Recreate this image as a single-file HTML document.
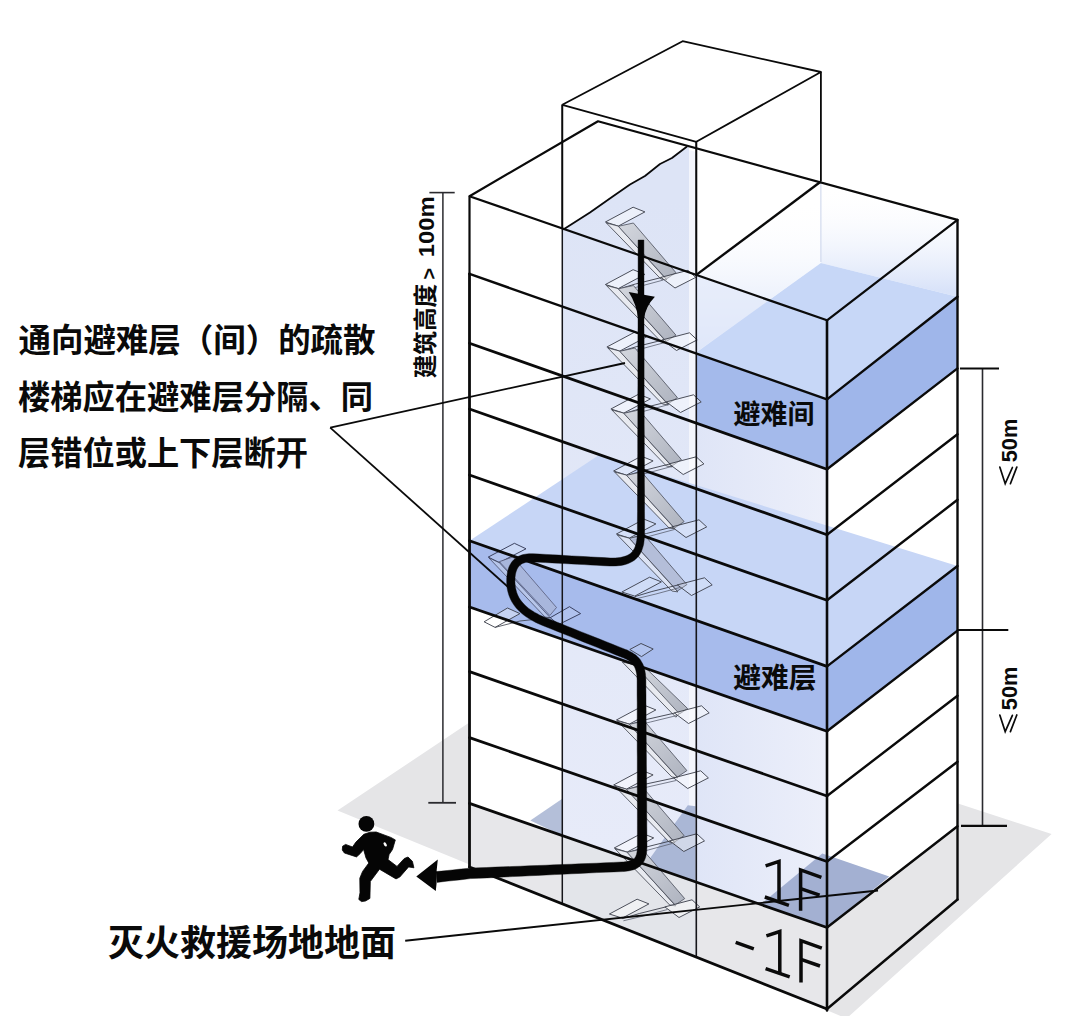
<!DOCTYPE html>
<html><head><meta charset="utf-8"><title>diagram</title>
<style>html,body{margin:0;padding:0;background:#fff;font-family:"Liberation Sans",sans-serif;}svg{display:block}</style>
</head><body>
<svg width="1066" height="1016" viewBox="0 0 1066 1016">
<defs>
<linearGradient id="gLav" x1="696" y1="0" x2="827" y2="0" gradientUnits="userSpaceOnUse"><stop offset="0" stop-color="#dfe5f7"/><stop offset="1" stop-color="#eceffa"/></linearGradient>
<linearGradient id="gWallL" x1="0" y1="200" x2="0" y2="350" gradientUnits="userSpaceOnUse"><stop offset="0" stop-color="#ffffff" stop-opacity="0"/><stop offset="1" stop-color="#cfdcf7" stop-opacity="0.9"/></linearGradient>
<linearGradient id="gWallR" x1="0" y1="185" x2="0" y2="290" gradientUnits="userSpaceOnUse"><stop offset="0" stop-color="#ffffff" stop-opacity="0"/><stop offset="1" stop-color="#d5e0f8" stop-opacity="0.9"/></linearGradient>
<linearGradient id="gRamp" x1="0" y1="0" x2="1" y2="1"><stop offset="0" stop-color="#d4d7de"/><stop offset="1" stop-color="#aeb3bf"/></linearGradient>
<linearGradient id="gCore" x1="0" y1="200" x2="0" y2="850" gradientUnits="userSpaceOnUse"><stop offset="0" stop-color="#dde4f6"/><stop offset="1" stop-color="#e7ebf9"/></linearGradient>
<filter id="soft" x="-5%" y="-5%" width="110%" height="110%"><feGaussianBlur stdDeviation="0.6"/></filter>
</defs>
<rect width="1066" height="1016" fill="#ffffff"/>
<g filter="url(#soft)">
<polygon points="337.5,810.5 469.5,864.5 827.0,1010.3 846.5,1018.5 1051.6,834.0 958.0,803.5 560.0,662.0" fill="#e5e5e7" />
</g>
<polygon points="469.5,196.2 598.0,121.3 957.5,219.9 827.0,320.3" fill="#ffffff" />
<polygon points="469.5,196.2 827.0,320.3 827.0,927.5 469.5,803.4" fill="#ffffff" />
<polygon points="827.0,320.3 957.5,219.9 957.5,826.2 827.0,927.5" fill="#ffffff" />
<polygon points="469.5,803.4 827.0,927.5 827.0,1009.0 469.5,867.0" fill="#e7e7ea" />
<polygon points="827.0,927.5 957.5,826.2 957.5,899.5 827.0,1009.0" fill="#e6e6e8" />
<polygon points="562.3,104.5 682.0,42.0 820.9,72.0 820.9,181.5 696.3,276.0 562.3,228.5" fill="#ffffff" />
<polygon points="696.3,274.9 820.9,181.5 820.9,263.0 696.3,352.0" fill="url(#gWallL)" />
<polygon points="820.9,181.5 957.5,219.9 957.5,296.7 820.9,263.0" fill="url(#gWallR)" />
<polygon points="696.3,274.9 827.0,320.3 827.0,399.4 696.3,353.5" fill="#e3e9f9" opacity='0.75'/>
<polygon points="696.3,352.5 827.0,399.4 957.5,296.7 820.9,263.0" fill="#c7d7f7" />
<polygon points="562.9,229.3 687.0,146.5 689.0,147.5 689.0,879.6 562.9,835.6" fill="url(#gCore)" />
<polygon points="689.0,150.0 696.3,152.0 696.3,882.1 689.0,879.6" fill="#f3f5fc" />
<polygon points="562.3,835.6 696.3,882.1 696.3,957.1 562.3,903.9" fill="#e3e5ea" />
<polygon points="696.3,423.1 827.0,469.2 827.0,927.5 696.3,882.1" fill="url(#gLav)" />
<polygon points="469.5,540.8 827.0,666.4 957.5,566.0 599.0,455.0" fill="#c7d6f6" />
<polygon points="696.3,353.5 827.0,399.4 827.0,469.2 696.3,423.1" fill="#a4baeb" />
<polygon points="827.0,399.4 957.5,296.7 957.5,368.4 827.0,469.2" fill="#9fb6ea" />
<polygon points="469.5,540.8 827.0,666.4 827.0,731.3 469.5,607.0" fill="#a7bbec" />
<polygon points="827.0,666.4 957.5,566.0 957.5,630.6 827.0,731.3" fill="#9fb6ea" />
<polygon points="530.3,820.6 563.0,798.3 563.0,835.9" fill="#b4bfd9" />
<polygon points="645.6,864.5 687.8,805.3 695.6,806.2 695.6,881.9" fill="#aab7d6" />
<polygon points="822.3,853.4 889.3,876.4 827.0,927.5 760.5,904.4" fill="#a3b0d2" />
<polygon points="605.4,222.0 633.1,207.2 644.9,211.9 618.3,226.1" fill="rgba(255,255,255,0.45)" stroke="#3a3d48" stroke-width="0.90" stroke-linejoin="round"/>
<polygon points="606.4,223.0 618.3,226.1 666.8,279.9 660.9,279.0" fill="#e8eaf0" stroke="#3a3d48" stroke-width="0.8" stroke-linejoin="round"/>
<polygon points="618.3,226.3 633.4,223.0 675.9,272.6 666.4,279.0" fill="url(#gRamp)" stroke="#4a4e5a" stroke-width="0.8" stroke-linejoin="round"/>
<polyline points="618.4,289.1 635.4,284.0 661.4,277.5" fill="none" stroke="#3a3d48" stroke-width="0.90" />
<polyline points="619.4,291.3 639.4,286.5 663.4,280.0" fill="none" stroke="#5a5f6e" stroke-width="0.80" />
<polygon points="660.9,277.4 688.0,270.3 695.7,277.4 675.0,288.0" fill="rgba(255,255,255,0.45)" stroke="#3a3d48" stroke-width="0.90" stroke-linejoin="round"/>
<polygon points="605.4,284.5 633.1,269.7 644.9,274.4 618.3,288.6" fill="rgba(255,255,255,0.45)" stroke="#3a3d48" stroke-width="0.90" stroke-linejoin="round"/>
<polygon points="606.4,285.5 618.3,288.6 666.8,342.4 660.9,341.5" fill="#e8eaf0" stroke="#3a3d48" stroke-width="0.8" stroke-linejoin="round"/>
<polygon points="618.3,288.8 633.4,285.5 675.9,335.1 666.4,341.5" fill="url(#gRamp)" stroke="#4a4e5a" stroke-width="0.8" stroke-linejoin="round"/>
<polyline points="619.9,351.6 636.9,346.5 662.9,340.0" fill="none" stroke="#3a3d48" stroke-width="0.90" />
<polyline points="620.9,353.8 640.9,349.0 664.9,342.5" fill="none" stroke="#5a5f6e" stroke-width="0.80" />
<polygon points="662.4,339.9 689.5,332.8 697.2,339.9 676.5,350.5" fill="rgba(255,255,255,0.45)" stroke="#3a3d48" stroke-width="0.90" stroke-linejoin="round"/>
<polygon points="606.9,347.0 634.6,332.2 646.4,336.9 619.8,351.1" fill="rgba(255,255,255,0.45)" stroke="#3a3d48" stroke-width="0.90" stroke-linejoin="round"/>
<polygon points="607.9,348.0 619.8,351.1 668.3,404.9 662.4,404.0" fill="#e8eaf0" stroke="#3a3d48" stroke-width="0.8" stroke-linejoin="round"/>
<polygon points="619.8,351.3 634.9,348.0 677.4,397.6 667.9,404.0" fill="url(#gRamp)" stroke="#4a4e5a" stroke-width="0.8" stroke-linejoin="round"/>
<polyline points="623.9,413.6 640.9,408.5 666.9,402.0" fill="none" stroke="#3a3d48" stroke-width="0.90" />
<polyline points="624.9,415.8 644.9,411.0 668.9,404.5" fill="none" stroke="#5a5f6e" stroke-width="0.80" />
<polygon points="666.4,401.9 693.5,394.8 701.2,401.9 680.5,412.5" fill="rgba(255,255,255,0.45)" stroke="#3a3d48" stroke-width="0.90" stroke-linejoin="round"/>
<polygon points="610.9,409.0 638.6,394.2 650.4,398.9 623.8,413.1" fill="rgba(255,255,255,0.45)" stroke="#3a3d48" stroke-width="0.90" stroke-linejoin="round"/>
<polygon points="611.9,410.0 623.8,413.1 672.3,466.9 666.4,466.0" fill="#e8eaf0" stroke="#3a3d48" stroke-width="0.8" stroke-linejoin="round"/>
<polygon points="623.8,413.3 638.9,410.0 681.4,459.6 671.9,466.0" fill="url(#gRamp)" stroke="#4a4e5a" stroke-width="0.8" stroke-linejoin="round"/>
<polyline points="626.6,475.6 643.6,470.5 669.6,464.0" fill="none" stroke="#3a3d48" stroke-width="0.90" />
<polyline points="627.6,477.8 647.6,473.0 671.6,466.5" fill="none" stroke="#5a5f6e" stroke-width="0.80" />
<polygon points="669.1,463.9 696.2,456.8 703.9,463.9 683.2,474.5" fill="rgba(255,255,255,0.45)" stroke="#3a3d48" stroke-width="0.90" stroke-linejoin="round"/>
<polygon points="613.6,471.0 641.3,456.2 653.1,460.9 626.5,475.1" fill="rgba(255,255,255,0.45)" stroke="#3a3d48" stroke-width="0.90" stroke-linejoin="round"/>
<polygon points="614.6,472.0 626.5,475.1 675.0,528.9 669.1,528.0" fill="#e8eaf0" stroke="#3a3d48" stroke-width="0.8" stroke-linejoin="round"/>
<polygon points="626.5,475.3 641.6,472.0 684.1,521.6 674.6,528.0" fill="url(#gRamp)" stroke="#4a4e5a" stroke-width="0.8" stroke-linejoin="round"/>
<polyline points="629.4,538.6 646.4,533.5 672.4,527.0" fill="none" stroke="#3a3d48" stroke-width="0.90" />
<polyline points="630.4,540.8 650.4,536.0 674.4,529.5" fill="none" stroke="#5a5f6e" stroke-width="0.80" />
<polygon points="671.9,526.9 699.0,519.8 706.7,526.9 686.0,537.5" fill="rgba(255,255,255,0.25)" stroke="#3a3d48" stroke-width="0.90" stroke-linejoin="round"/>
<polygon points="616.4,534.0 644.1,519.2 655.9,523.9 629.3,538.1" fill="rgba(255,255,255,0.25)" stroke="#3a3d48" stroke-width="0.90" stroke-linejoin="round"/>
<polygon points="617.4,535.0 629.3,538.1 677.8,591.9 671.9,591.0" fill="rgba(225,230,244,0.8)" stroke="#3a3d48" stroke-width="0.8" stroke-linejoin="round"/>
<polygon points="629.3,538.3 644.4,535.0 686.9,584.6 677.4,591.0" fill="rgba(176,186,212,0.85)" stroke="#4a4e5a" stroke-width="0.8" stroke-linejoin="round"/>
<polyline points="634.9,596.6 651.9,591.5 677.9,585.0" fill="none" stroke="#3a3d48" stroke-width="0.90" />
<polyline points="635.9,598.8 655.9,594.0 679.9,587.5" fill="none" stroke="#5a5f6e" stroke-width="0.80" />
<polygon points="677.4,584.9 704.5,577.8 712.2,584.9 691.5,595.5" fill="rgba(255,255,255,0.15)" stroke="#3a3d48" stroke-width="0.90" stroke-linejoin="round"/>
<polygon points="621.9,592.0 649.6,577.2 661.4,581.9 634.8,596.1" fill="rgba(255,255,255,0.15)" stroke="#3a3d48" stroke-width="0.90" stroke-linejoin="round"/>
<polygon points="629.8,649.5 641.0,643.5 653.2,649.0 641.5,656.6" fill="rgba(255,255,255,0.12)" stroke="#3a3d48" stroke-width="0.90" stroke-linejoin="round"/>
<polygon points="622.3,662.0 634.0,664.5 681.0,712.0 675.8,717.2" fill="#e8eaf0" stroke="#3a3d48" stroke-width="0.8"/>
<polygon points="634.0,664.5 646.5,668.8 687.6,708.5 679.5,714.0" fill="url(#gRamp)" stroke="#4a4e5a" stroke-width="0.8"/>
<polyline points="629.4,724.6 646.4,719.5 674.9,713.0" fill="none" stroke="#3a3d48" stroke-width="0.90" />
<polyline points="630.4,726.8 650.4,722.0 676.9,715.5" fill="none" stroke="#5a5f6e" stroke-width="0.80" />
<polygon points="674.4,712.9 701.5,705.8 709.2,712.9 688.5,723.5" fill="rgba(255,255,255,0.45)" stroke="#3a3d48" stroke-width="0.90" stroke-linejoin="round"/>
<polygon points="616.4,720.0 644.1,705.2 655.9,709.9 629.3,724.1" fill="rgba(255,255,255,0.45)" stroke="#3a3d48" stroke-width="0.90" stroke-linejoin="round"/>
<polygon points="617.4,721.0 629.3,724.1 677.8,777.9 671.9,777.0" fill="#e8eaf0" stroke="#3a3d48" stroke-width="0.8" stroke-linejoin="round"/>
<polygon points="629.3,724.3 644.4,721.0 686.9,770.6 677.4,777.0" fill="url(#gRamp)" stroke="#4a4e5a" stroke-width="0.8" stroke-linejoin="round"/>
<polyline points="626.6,789.6 643.6,784.5 674.1,778.0" fill="none" stroke="#3a3d48" stroke-width="0.90" />
<polyline points="627.6,791.8 647.6,787.0 676.1,780.5" fill="none" stroke="#5a5f6e" stroke-width="0.80" />
<polygon points="673.6,777.9 700.7,770.8 708.4,777.9 687.7,788.5" fill="rgba(255,255,255,0.45)" stroke="#3a3d48" stroke-width="0.90" stroke-linejoin="round"/>
<polygon points="613.6,785.0 641.3,770.2 653.1,774.9 626.5,789.1" fill="rgba(255,255,255,0.45)" stroke="#3a3d48" stroke-width="0.90" stroke-linejoin="round"/>
<polygon points="614.6,786.0 626.5,789.1 675.0,842.9 669.1,842.0" fill="#e8eaf0" stroke="#3a3d48" stroke-width="0.8" stroke-linejoin="round"/>
<polygon points="626.5,789.3 641.6,786.0 684.1,835.6 674.6,842.0" fill="url(#gRamp)" stroke="#4a4e5a" stroke-width="0.8" stroke-linejoin="round"/>
<polyline points="627.2,852.6 644.2,847.5 670.2,841.0" fill="none" stroke="#3a3d48" stroke-width="0.90" />
<polyline points="628.2,854.8 648.2,850.0 672.2,843.5" fill="none" stroke="#5a5f6e" stroke-width="0.80" />
<polygon points="669.7,840.9 696.8,833.8 704.5,840.9 683.8,851.5" fill="rgba(255,255,255,0.45)" stroke="#3a3d48" stroke-width="0.90" stroke-linejoin="round"/>
<polygon points="614.2,848.0 641.9,833.2 653.7,837.9 627.1,852.1" fill="rgba(255,255,255,0.45)" stroke="#3a3d48" stroke-width="0.90" stroke-linejoin="round"/>
<polygon points="615.2,849.0 627.1,852.1 675.6,905.9 669.7,905.0" fill="#e8eaf0" stroke="#3a3d48" stroke-width="0.8" stroke-linejoin="round"/>
<polygon points="627.1,852.3 642.2,849.0 684.7,898.6 675.2,905.0" fill="url(#gRamp)" stroke="#4a4e5a" stroke-width="0.8" stroke-linejoin="round"/>
<polyline points="622.4,918.6 639.4,913.5 665.4,907.0" fill="none" stroke="#3a3d48" stroke-width="0.90" />
<polyline points="623.4,920.8 643.4,916.0 667.4,909.5" fill="none" stroke="#5a5f6e" stroke-width="0.80" />
<polygon points="664.9,906.9 692.0,899.8 699.7,906.9 679.0,917.5" fill="rgba(255,255,255,0.45)" stroke="#3a3d48" stroke-width="0.90" stroke-linejoin="round"/>
<polygon points="609.4,914.0 637.1,899.2 648.9,903.9 622.3,918.1" fill="rgba(255,255,255,0.45)" stroke="#3a3d48" stroke-width="0.90" stroke-linejoin="round"/>
<polygon points="488.2,557.1 514.4,543.3 526.0,548.8 499.3,562.6" fill="rgba(255,255,255,0.10)" stroke="#2e3350" stroke-width="0.90" stroke-linejoin="round"/>
<polygon points="489.0,558.0 499.3,562.6 550.2,617.7 545.0,617.0" fill="rgba(190,202,234,0.7)" stroke="#3a3d58" stroke-width="0.7"/>
<polygon points="499.3,561.6 513.0,557.0 556.5,607.5 549.8,615.5" fill="rgba(168,182,218,0.9)" stroke="#4a4e6a" stroke-width="0.7"/>
<polygon points="484.1,621.8 507.5,608.0 519.9,613.6 495.1,627.4" fill="rgba(255,255,255,0.35)" stroke="#3a3d48" stroke-width="0.90" stroke-linejoin="round"/>
<polygon points="550.2,617.7 569.5,606.7 580.6,613.6 558.5,624.6" fill="rgba(255,255,255,0.10)" stroke="#2e3350" stroke-width="0.90" stroke-linejoin="round"/>
<polyline points="495.1,627.4 520.0,621.0 550.2,617.7" fill="none" stroke="#3a3d48" stroke-width="0.80" />
<line x1="562.3" y1="104.5" x2="562.3" y2="903.9" stroke="#15151a" stroke-width="1.50" />
<line x1="696.3" y1="142.0" x2="696.3" y2="957.1" stroke="#15151a" stroke-width="1.60" />
<polyline points="562.3,104.8 682.6,41.2 820.9,72.0 696.3,141.8 562.3,104.8" fill="none" stroke="#0a0a0a" stroke-width="1.80" stroke-linejoin="round"/>
<line x1="820.9" y1="72.0" x2="820.9" y2="181.5" stroke="#0a0a0a" stroke-width="1.80" />
<line x1="696.3" y1="142.0" x2="696.3" y2="276.0" stroke="#0a0a0a" stroke-width="1.80" />
<line x1="562.3" y1="104.5" x2="562.3" y2="229.0" stroke="#0a0a0a" stroke-width="1.80" />
<line x1="820.9" y1="181.5" x2="820.9" y2="262.0" stroke="#c9d3ea" stroke-width="1.00" />
<line x1="696.3" y1="274.9" x2="820.9" y2="181.5" stroke="#0a0a0a" stroke-width="2.40" />
<polyline points="563.3,229.5 590.0,212.5 612.0,197.0 630.0,184.5 645.0,176.0 660.0,164.0 672.0,158.0 687.0,146.5" fill="none" stroke="#0a0a0a" stroke-width="1.80" stroke-linejoin="round"/>
<polyline points="469.5,196.2 598.0,121.3 957.5,219.9 827.0,320.3 469.5,196.2" fill="none" stroke="#0a0a0a" stroke-width="2.20" stroke-linejoin="round"/>
<line x1="469.5" y1="273.9" x2="827.0" y2="399.4" stroke="#0a0a0a" stroke-width="2.40" stroke-linecap="round"/>
<line x1="827.0" y1="399.4" x2="957.5" y2="296.7" stroke="#0a0a0a" stroke-width="2.40" stroke-linecap="round"/>
<line x1="469.5" y1="343.2" x2="827.0" y2="469.2" stroke="#0a0a0a" stroke-width="2.80" stroke-linecap="round"/>
<line x1="827.0" y1="469.2" x2="957.5" y2="368.4" stroke="#0a0a0a" stroke-width="2.40" stroke-linecap="round"/>
<line x1="469.5" y1="409.0" x2="827.0" y2="534.7" stroke="#0a0a0a" stroke-width="2.80" stroke-linecap="round"/>
<line x1="827.0" y1="534.7" x2="957.5" y2="434.3" stroke="#0a0a0a" stroke-width="2.40" stroke-linecap="round"/>
<line x1="469.5" y1="475.0" x2="827.0" y2="600.3" stroke="#0a0a0a" stroke-width="2.80" stroke-linecap="round"/>
<line x1="827.0" y1="600.3" x2="957.5" y2="499.8" stroke="#0a0a0a" stroke-width="2.40" stroke-linecap="round"/>
<line x1="469.5" y1="540.8" x2="827.0" y2="666.4" stroke="#0a0a0a" stroke-width="2.80" stroke-linecap="round"/>
<line x1="827.0" y1="666.4" x2="957.5" y2="566.0" stroke="#0a0a0a" stroke-width="2.40" stroke-linecap="round"/>
<line x1="469.5" y1="607.0" x2="827.0" y2="731.3" stroke="#0a0a0a" stroke-width="2.80" stroke-linecap="round"/>
<line x1="827.0" y1="731.3" x2="957.5" y2="630.6" stroke="#0a0a0a" stroke-width="2.40" stroke-linecap="round"/>
<line x1="469.5" y1="671.6" x2="827.0" y2="796.0" stroke="#0a0a0a" stroke-width="2.80" stroke-linecap="round"/>
<line x1="827.0" y1="796.0" x2="957.5" y2="695.8" stroke="#0a0a0a" stroke-width="2.40" stroke-linecap="round"/>
<line x1="469.5" y1="737.6" x2="827.0" y2="861.5" stroke="#0a0a0a" stroke-width="2.80" stroke-linecap="round"/>
<line x1="827.0" y1="861.5" x2="957.5" y2="761.7" stroke="#0a0a0a" stroke-width="2.40" stroke-linecap="round"/>
<line x1="469.5" y1="803.4" x2="827.0" y2="927.5" stroke="#0a0a0a" stroke-width="2.80" stroke-linecap="round"/>
<line x1="827.0" y1="927.5" x2="957.5" y2="826.2" stroke="#0a0a0a" stroke-width="2.40" stroke-linecap="round"/>
<line x1="469.5" y1="867.0" x2="827.0" y2="1009.0" stroke="#0a0a0a" stroke-width="2.80" stroke-linecap="round"/>
<line x1="827.0" y1="1009.0" x2="957.5" y2="899.5" stroke="#0a0a0a" stroke-width="2.40" stroke-linecap="round"/>
<line x1="469.5" y1="196.2" x2="469.5" y2="273.9" stroke="#0a0a0a" stroke-width="2.20" stroke-linecap="round"/>
<line x1="469.5" y1="273.9" x2="469.5" y2="867.0" stroke="#0a0a0a" stroke-width="2.80" stroke-linecap="round"/>
<line x1="827.0" y1="320.3" x2="827.0" y2="1010.5" stroke="#0a0a0a" stroke-width="2.60" stroke-linecap="round"/>
<line x1="957.5" y1="219.9" x2="957.5" y2="899.5" stroke="#0a0a0a" stroke-width="2.40" stroke-linecap="round"/>
<line x1="442.9" y1="192.6" x2="442.9" y2="802.8" stroke="#2a2a2e" stroke-width="1.50" />
<line x1="429.4" y1="192.6" x2="454.7" y2="192.6" stroke="#2a2a2e" stroke-width="1.60" />
<line x1="428.3" y1="802.8" x2="456.0" y2="802.8" stroke="#2a2a2e" stroke-width="1.80" />
<line x1="982.5" y1="368.5" x2="982.5" y2="825.9" stroke="#2a2a2e" stroke-width="1.60" />
<line x1="960.0" y1="368.5" x2="999.0" y2="368.5" stroke="#0a0a0a" stroke-width="2.20" />
<line x1="958.0" y1="630.0" x2="1008.3" y2="630.0" stroke="#0a0a0a" stroke-width="2.20" />
<line x1="961.0" y1="825.9" x2="1007.0" y2="825.9" stroke="#0a0a0a" stroke-width="2.20" />
<line x1="330.2" y1="427.6" x2="625.0" y2="363.0" stroke="#0a0a0a" stroke-width="1.80" />
<line x1="330.2" y1="427.6" x2="512.0" y2="590.5" stroke="#0a0a0a" stroke-width="1.80" />
<line x1="405.2" y1="940.7" x2="878.0" y2="890.5" stroke="#0a0a0a" stroke-width="1.90" />
<polygon points="638.1,240.0 638.1,249.7 638.1,259.4 638.1,269.1 638.0,278.8 638.0,288.5 638.0,298.2 638.0,307.9 638.0,317.6 638.0,327.3 637.9,337.0 637.9,346.7 637.9,356.4 637.9,366.1 637.9,375.8 637.9,385.5 637.8,395.2 637.8,404.9 637.8,414.6 637.8,424.3 637.7,434.0 637.7,443.7 637.7,453.4 637.6,463.1 637.6,472.8 637.6,482.5 637.5,492.2 637.5,501.9 637.5,511.6 637.4,521.3 637.4,531.0 637.3,533.6 637.2,536.0 637.0,538.3 636.7,540.4 636.3,542.4 635.9,544.3 635.4,545.9 634.8,547.5 634.1,548.9 633.4,550.1 632.6,551.3 631.7,552.3 630.7,553.2 629.6,554.1 628.4,554.8 627.0,555.5 625.5,556.1 623.9,556.6 622.0,557.1 620.0,557.5 617.8,557.7 615.4,557.9 612.9,558.0 610.2,558.0 603.8,557.6 597.4,557.3 591.0,556.9 584.6,556.6 578.1,556.2 571.7,555.9 565.3,555.5 558.9,555.1 552.5,554.8 546.1,554.4 539.6,554.1 533.2,553.7 531.0,553.7 529.0,553.7 527.0,553.9 525.1,554.2 523.2,554.6 521.5,555.1 519.8,555.7 518.2,556.5 516.7,557.4 515.3,558.4 514.0,559.5 512.8,560.8 511.7,562.1 510.8,563.5 509.9,565.0 509.2,566.5 508.6,568.1 508.1,569.8 507.6,571.5 507.3,573.3 507.0,575.2 506.8,577.1 506.7,579.0 506.7,581.0 506.7,583.6 506.9,586.1 507.2,588.5 507.7,590.9 508.3,593.3 509.0,595.5 509.9,597.8 510.9,599.9 512.0,602.1 513.3,604.1 514.7,606.1 516.2,608.0 517.9,609.8 519.7,611.6 521.6,613.3 523.7,615.0 525.8,616.6 528.1,618.1 530.5,619.6 533.1,621.0 535.7,622.4 538.5,623.7 541.4,625.0 544.4,626.2 550.9,628.8 557.4,631.4 563.9,634.0 570.4,636.6 576.9,639.2 583.4,641.9 589.9,644.5 596.4,647.1 602.9,649.7 609.4,652.3 615.9,654.9 622.4,657.5 623.9,658.1 625.2,658.7 626.5,659.3 627.6,660.0 628.7,660.6 629.6,661.3 630.5,662.0 631.3,662.7 632.1,663.5 632.7,664.2 633.3,665.0 633.9,665.9 634.4,666.8 634.9,667.8 635.3,668.8 635.7,669.9 636.0,671.1 636.3,672.4 636.6,673.7 636.8,675.2 636.9,676.8 637.0,678.4 637.1,680.2 637.1,682.0 637.1,688.9 637.1,695.7 637.2,702.5 637.2,709.4 637.2,716.2 637.2,723.0 637.2,729.9 637.2,736.7 637.2,743.5 637.2,750.4 637.3,757.2 637.3,764.0 637.3,770.9 637.3,777.7 637.3,784.5 637.3,791.4 637.3,798.2 637.4,805.0 637.4,811.9 637.4,818.7 637.4,825.5 637.4,832.4 637.4,839.2 637.4,846.0 637.4,847.7 637.3,849.2 637.2,850.7 637.0,852.0 636.8,853.1 636.6,854.2 636.3,855.1 635.9,855.9 635.6,856.7 635.2,857.3 634.8,857.9 634.3,858.4 633.8,858.8 633.2,859.3 632.6,859.7 631.9,860.0 631.0,860.4 630.0,860.8 629.0,861.1 627.8,861.3 626.4,861.6 625.0,861.8 623.4,861.9 621.8,862.0 613.4,862.4 604.9,862.8 596.5,863.2 588.0,863.5 579.6,863.8 571.1,864.2 562.7,864.5 554.2,864.8 545.8,865.2 537.3,865.5 528.9,865.8 520.4,866.2 512.0,866.5 503.6,866.8 495.1,867.1 486.7,867.5 478.2,867.8 469.6,868.2 463.9,868.7 458.3,869.3 452.7,869.9 447.1,870.5 441.5,871.1 435.9,871.6 437.1,882.4 442.7,881.7 448.2,881.1 453.8,880.5 459.4,879.9 465.0,879.3 470.4,878.6 478.7,878.3 487.1,877.9 495.6,877.5 504.0,877.0 512.4,876.6 520.9,876.2 529.3,875.8 537.8,875.4 546.2,875.0 554.7,874.6 563.1,874.2 571.5,873.8 580.0,873.4 588.4,873.0 596.9,872.6 605.3,872.2 613.8,871.9 622.2,871.6 624.2,871.4 626.1,871.2 627.9,871.0 629.6,870.7 631.3,870.3 632.9,869.9 634.5,869.4 636.0,868.7 637.4,868.0 638.7,867.1 640.0,866.2 641.1,865.1 642.2,863.9 643.1,862.6 644.0,861.3 644.7,859.8 645.3,858.3 645.8,856.7 646.1,855.1 646.5,853.4 646.7,851.7 646.8,849.9 646.9,848.0 647.0,846.0 646.9,839.1 646.9,832.3 646.8,825.5 646.8,818.6 646.7,811.8 646.7,805.0 646.6,798.1 646.6,791.3 646.6,784.5 646.5,777.6 646.5,770.8 646.4,764.0 646.4,757.1 646.3,750.3 646.3,743.5 646.2,736.6 646.2,729.8 646.2,723.0 646.1,716.1 646.1,709.3 646.0,702.5 646.0,695.6 645.9,688.8 645.9,682.0 645.9,679.9 645.8,677.9 645.6,676.0 645.5,674.2 645.2,672.4 644.9,670.6 644.5,668.9 644.0,667.3 643.5,665.7 642.9,664.2 642.1,662.8 641.3,661.4 640.5,660.0 639.5,658.7 638.4,657.5 637.3,656.4 636.1,655.3 634.8,654.3 633.4,653.4 632.0,652.5 630.5,651.7 628.9,650.9 627.3,650.1 625.6,649.5 619.1,646.9 612.6,644.3 606.1,641.7 599.6,639.1 593.1,636.5 586.6,633.9 580.1,631.4 573.6,628.8 567.1,626.2 560.6,623.6 554.1,621.0 547.6,618.4 544.7,617.3 542.0,616.1 539.4,614.9 537.0,613.6 534.8,612.4 532.6,611.1 530.6,609.7 528.7,608.4 527.0,607.0 525.4,605.5 523.9,604.1 522.6,602.6 521.3,601.1 520.2,599.5 519.2,597.9 518.3,596.2 517.5,594.5 516.8,592.8 516.3,591.0 515.8,589.1 515.4,587.2 515.2,585.2 515.0,583.1 514.9,581.0 515.0,579.3 515.0,577.7 515.2,576.2 515.4,574.7 515.7,573.3 516.0,572.1 516.4,570.9 516.8,569.8 517.3,568.8 517.8,567.8 518.4,567.0 519.0,566.2 519.7,565.5 520.4,564.9 521.2,564.3 522.1,563.7 523.0,563.3 524.1,562.9 525.3,562.5 526.5,562.2 527.9,562.0 529.4,561.9 531.1,561.8 532.8,561.9 539.2,562.2 545.6,562.6 552.0,562.9 558.4,563.3 564.9,563.6 571.3,563.9 577.7,564.3 584.1,564.6 590.5,565.0 596.9,565.3 603.4,565.7 609.8,566.0 613.0,566.0 615.9,565.9 618.6,565.7 621.2,565.4 623.7,564.9 626.1,564.3 628.3,563.5 630.4,562.6 632.3,561.6 634.1,560.4 635.8,559.1 637.3,557.6 638.7,556.0 639.9,554.2 640.9,552.3 641.8,550.4 642.5,548.3 643.2,546.1 643.7,543.9 644.0,541.5 644.3,539.0 644.5,536.5 644.6,533.8 644.6,531.0 644.6,521.3 644.5,511.6 644.5,501.9 644.5,492.2 644.4,482.5 644.4,472.8 644.4,463.1 644.3,453.4 644.3,443.7 644.3,434.0 644.2,424.3 644.2,414.6 644.2,404.9 644.2,395.2 644.1,385.5 644.1,375.8 644.1,366.1 644.1,356.4 644.1,346.7 644.1,337.0 644.0,327.3 644.0,317.6 644.0,307.9 644.0,298.2 644.0,288.5 644.0,278.8 643.9,269.1 643.9,259.4 643.9,249.7 643.9,240.0" fill="#050505" stroke="#050505" stroke-width="0.4" stroke-linejoin="round"/>
<path d="M628.7,292.1 L654.9,296.8 Q645.5,306.5 644.0,319 L638.0,319 Q636.8,304.5 628.7,292.1 Z" fill="#050505"/>
<polygon points="416.3,876.6 437.8,859.6 436.6,871.0 436.6,883.0 435.8,891.0" fill="#050505" />
<circle cx="366.4" cy="823.9" r="7.9" fill="#050505"/>
<path d="M363.8,834.3 L355.9,842.1 L352.5,847.0 L345.6,844.4 L342.6,846.2 L342.3,850.0 L344.4,853.0 L356.5,856.9 L360.2,853.6 L363.6,849.5 L366.0,857.9 L368.8,863.0 L362.6,871.4 L359.8,878.2 L360.0,892.8 L358.8,899.4 L361.5,901.6 L365.5,901.0 L369.9,898.4 L370.3,881.5 L379.5,869.2 L396.0,878.9 L399.8,877.0 L408.6,866.9 L413.9,867.8 L412.4,861.3 L408.0,857.0 L404.3,858.5 L397.0,866.4 L388.0,859.6 L389.1,854.5 L392.5,849.5 L395.3,839.9 L390.8,837.4 L376.2,832.0 L370.0,832.2 Z" fill="#050505" stroke="#050505" stroke-width="0.8" stroke-linejoin="round"/>
<ellipse cx="385.2" cy="844.4" rx="1.3" ry="2.3" transform="rotate(-35 385.2 844.4)" fill="#fff"/>
<text x="18.5" y="351.5" font-family='"Liberation Sans", "Noto Sans CJK SC", sans-serif' font-size="32.5" font-weight="bold" fill="#0a0a0a" textLength="357" lengthAdjust="spacingAndGlyphs">通向避难层（间）的疏散</text>
<text x="18" y="408.6" font-family='"Liberation Sans", "Noto Sans CJK SC", sans-serif' font-size="32.5" font-weight="bold" fill="#0a0a0a" textLength="355" lengthAdjust="spacingAndGlyphs">楼梯应在避难层分隔、同</text>
<text x="18" y="465.3" font-family='"Liberation Sans", "Noto Sans CJK SC", sans-serif' font-size="32.5" font-weight="bold" fill="#0a0a0a" textLength="290" lengthAdjust="spacingAndGlyphs">层错位或上下层断开</text>
<text x="108" y="956.4" font-family='"Liberation Sans", "Noto Sans CJK SC", sans-serif' font-size="36" font-weight="bold" fill="#0a0a0a" textLength="288" lengthAdjust="spacingAndGlyphs">灭火救援场地地面</text>
<text x="733.6" y="423.7" font-family='"Liberation Sans", "Noto Sans CJK SC", sans-serif' font-size="27.5" font-weight="bold" fill="#0a0a0a" textLength="81" lengthAdjust="spacingAndGlyphs">避难间</text>
<text x="733.2" y="687.8" font-family='"Liberation Sans", "Noto Sans CJK SC", sans-serif' font-size="28" font-weight="bold" fill="#0a0a0a" textLength="83.3" lengthAdjust="spacingAndGlyphs">避难层</text>
<text transform="translate(433.7,378.3) rotate(-90)" x="0" y="0" font-family='"Liberation Sans", "Noto Sans CJK SC", sans-serif' font-size="23.5" font-weight="bold" fill="#0a0a0a" textLength="94.5" lengthAdjust="spacingAndGlyphs">建筑高度</text>
<text transform="translate(435.5,279.5) rotate(-90)" x="0" y="0" font-family='"Liberation Sans", "Noto Sans CJK SC", sans-serif' font-size="20" font-weight="bold" fill="#0a0a0a">&gt;</text>
<text transform="translate(434.3,257.2) rotate(-90)" x="0" y="0" font-family='"Liberation Sans", "Noto Sans CJK SC", sans-serif' font-size="22" font-weight="bold" fill="#0a0a0a" textLength="61" lengthAdjust="spacingAndGlyphs">100m</text>
<text transform="translate(1017.2,462.3) rotate(-90)" x="0" y="0" font-family='"Liberation Sans", "Noto Sans CJK SC", sans-serif' font-size="22" font-weight="bold" fill="#0a0a0a" textLength="43.6" lengthAdjust="spacingAndGlyphs">50m</text>
<polyline points="999.8,467.1 1005.2,483.7 1012.4,467.5" fill="none" stroke="#0a0a0a" stroke-width="1.70" stroke-linejoin="miter" stroke-linecap="round"/>
<line x1="1010.4" y1="483.7" x2="1016.8" y2="467.1" stroke="#0a0a0a" stroke-width="1.70" stroke-linecap="round"/>
<text transform="translate(1017.2,710.2) rotate(-90)" x="0" y="0" font-family='"Liberation Sans", "Noto Sans CJK SC", sans-serif' font-size="22" font-weight="bold" fill="#0a0a0a" textLength="43.6" lengthAdjust="spacingAndGlyphs">50m</text>
<polyline points="999.8,715.0 1005.2,731.6 1012.4,715.4" fill="none" stroke="#0a0a0a" stroke-width="1.70" stroke-linejoin="miter" stroke-linecap="round"/>
<line x1="1010.4" y1="731.6" x2="1016.8" y2="715.0" stroke="#0a0a0a" stroke-width="1.70" stroke-linecap="round"/>
<polyline points="765.6,865.8 779.0,861.4 779.0,902.2" fill="none" stroke="#0a0a0a" stroke-width="3.50" stroke-linejoin="miter" stroke-miterlimit="6"/>
<line x1="764.8" y1="897.0" x2="788.9" y2="905.3" stroke="#0a0a0a" stroke-width="3.50" />
<polyline points="821.4,877.3 800.6,869.9 800.6,910.8" fill="none" stroke="#0a0a0a" stroke-width="3.50" stroke-linejoin="miter" stroke-miterlimit="6"/>
<line x1="800.6" y1="888.6" x2="819.6" y2="895.2" stroke="#0a0a0a" stroke-width="3.50" />
<line x1="735.7" y1="942.3" x2="753.8" y2="948.9" stroke="#0a0a0a" stroke-width="3.50" />
<polyline points="766.4,935.9 779.8,931.5 779.8,973.8" fill="none" stroke="#0a0a0a" stroke-width="3.50" stroke-linejoin="miter" stroke-miterlimit="6"/>
<line x1="765.6" y1="968.6" x2="789.7" y2="976.9" stroke="#0a0a0a" stroke-width="3.50" />
<polyline points="821.8,948.1 801.0,940.7 801.0,982.4" fill="none" stroke="#0a0a0a" stroke-width="3.50" stroke-linejoin="miter" stroke-miterlimit="6"/>
<line x1="801.0" y1="959.4" x2="820.0" y2="966.0" stroke="#0a0a0a" stroke-width="3.50" />
</svg>
</body></html>
